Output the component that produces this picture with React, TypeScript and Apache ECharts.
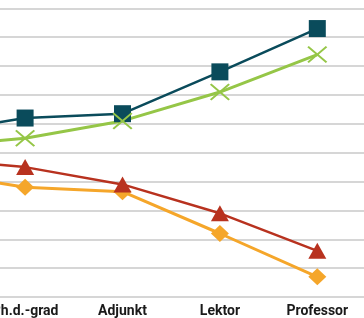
import React, { useEffect, useRef } from "react";
import * as echarts from "echarts";

// Categories (the first one lies outside the visible crop, to the left)
const categories = ["Kandidatgrad", "Ph.d.-grad", "Adjunkt", "Lektor", "Professor"];

// Percent values
const menYear1 = [56.5, 62, 63.5, 78, 93];
const womenYear1 = [43.5, 38, 36.5, 22, 7];
const menYear2 = [52, 55, 61, 71, 84];
const womenYear2 = [48, 45, 39, 29, 16];

const yMin = 0;
const yMax = 100;
const yInterval = 10;

const X_SYMBOL =
  "path://M0,1.5 L1.5,0 L10,8.5 L18.5,0 L20,1.5 L11.5,10 L20,18.5 L18.5,20 L10,11.5 L1.5,20 L0,18.5 L8.5,10 Z";

export default function App() {
  const ref = useRef<HTMLDivElement>(null);

  useEffect(() => {
    document.body.style.overflow = "hidden";
    if (!ref.current) return;
    const chart = echarts.init(ref.current, undefined, { renderer: "svg" });
    chart.setOption({
      animation: false,
      grid: { left: 9, right: 4, top: 8.35, bottom: 21, containLabel: false },
      xAxis: {
        type: "category",
        data: categories,
        boundaryGap: true,
        axisLine: { show: false },
        axisTick: { show: false },
        axisLabel: {
          interval: 0,
          hideOverlap: false,
          color: "#1a1a1a",
          fontFamily: "Roboto",
          fontWeight: "bold",
          fontSize: 14,
          margin: 6,
        },
      },
      yAxis: {
        type: "value",
        min: yMin,
        max: yMax,
        interval: yInterval,
        axisLabel: { show: false },
        axisLine: { show: false },
        axisTick: { show: false },
        splitLine: { lineStyle: { color: "#c8c8c8", width: 1.5 } },
      },
      series: [
        {
          name: "Mænd (år 1)",
          type: "line",
          data: menYear1,
          symbol: "rect",
          symbolSize: 17,
          lineStyle: { color: "#0a4b5b", width: 2.5 },
          itemStyle: { color: "#0a4b5b" },
        },
        {
          name: "Kvinder (år 1)",
          type: "line",
          data: womenYear1,
          symbol: "diamond",
          symbolSize: [18, 17],
          lineStyle: { color: "#f5a62a", width: 3 },
          itemStyle: { color: "#f5a62a" },
        },
        {
          name: "Mænd (år 2)",
          type: "line",
          data: menYear2,
          symbol: X_SYMBOL,
          symbolSize: [20, 17],
          lineStyle: { color: "#95c647", width: 3 },
          itemStyle: { color: "#95c647" },
        },
        {
          name: "Kvinder (år 2)",
          type: "line",
          data: womenYear2,
          symbol: "triangle",
          symbolSize: [18, 16],
          lineStyle: { color: "#b8321f", width: 2.5 },
          itemStyle: { color: "#b8321f" },
        },
      ],
    });
    return () => chart.dispose();
  }, []);

  return (
    <div
      ref={ref}
      style={{ position: "fixed", left: -130, top: 0, width: 500, height: 318 }}
    />
  );
}
